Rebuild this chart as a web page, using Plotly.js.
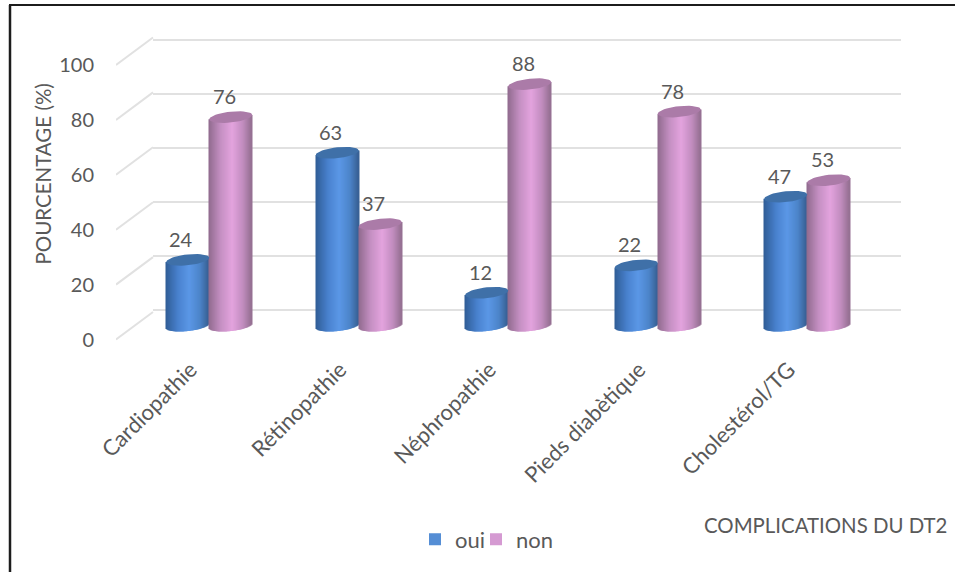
<!DOCTYPE html>
<html>
<head>
<meta charset="utf-8">
<script src="https://cdn.plot.ly/plotly-3.0.1.min.js"></script>
<style>html,body{margin:0;padding:0;background:#fff}#chart{width:955px;height:572px}</style>
</head>
<body>
<div id="chart"></div>
<script>
// Chart data
const categories = ['Cardiopathie', 'Rétinopathie', 'Néphropathie', 'Pieds diabètique', 'Cholestérol/TG'];
const oui = [24, 63, 12, 22, 47];
const non = [76, 37, 88, 78, 53];
const yTicks = [0, 20, 40, 60, 80, 100];

// Palette
const textColor = '#595959';
const gridColor = '#e1e1e1';
const blueStops = [[0, '#2f5d95'], [0.3, '#4a82cf'], [0.55, '#5b97e6'], [0.8, '#4c84c9'], [1, '#375f92']];
const pinkStops = [[0, '#8f6a8d'], [0.28, '#c48fc2'], [0.55, '#e3a3de'], [0.8, '#c18cbe'], [1, '#936f90']];

// Pixel geometry of the depth planes of the pseudo-3D floor
const W = 955, H = 572;
const plotW = 747.5, plotH = 274.5;
const planes = {
  front: { left: 116, zero: 339.5 },
  mid:   { left: 134.5, zero: 325.7 },
  back:  { left: 153, zero: 312 },
  wall:  { left: 153, zero: 309.5 }
};
const pxPerCat = plotW / categories.length;
const pxPerUnit = plotH / 100;
const barPx = 43;
const barW = barPx / pxPerCat;
const yLow = -5, yHigh = 115;   // shared value range, wider than the ticks so edge lines survive

function domainX(p) { return [p.left / W, (p.left + plotW) / W]; }
function domainY(p) {
  return [1 - (p.zero - yLow * pxPerUnit) / H, 1 - (p.zero - yHigh * pxPerUnit) / H];
}

// Linear interpolation through the shading stops of a cylinder
function shade(stops, t) {
  for (let i = 1; i < stops.length; i++) {
    if (t <= stops[i][0]) {
      const [t0, c0] = stops[i - 1], [t1, c1] = stops[i];
      const f = (t - t0) / (t1 - t0);
      const ch = (c, k) => parseInt(c.substr(1 + 2 * k, 2), 16);
      const v = [0, 1, 2].map(k => Math.round(ch(c0, k) + (ch(c1, k) - ch(c0, k)) * f));
      return `rgb(${v[0]},${v[1]},${v[2]})`;
    }
  }
  return stops[stops.length - 1][1];
}

const ellB = 5.4, ellTilt = 2.2;   // rim half-height and lean, in pixels
const STRIPS = 43;
const traces = [];

// Back wall: carries the horizontal gridlines only
traces.push({ type: 'scatter', mode: 'none', x: [0], y: [0], xaxis: 'x', yaxis: 'y', showlegend: false, hoverinfo: 'skip' });

// Front plane: slanted floor lines joining the value axis to the back wall
const slantX = [], slantY = [];
yTicks.forEach(v => {
  slantX.push(-0.5, -0.5 + (planes.back.left - planes.front.left) / pxPerCat, null);
  slantY.push(v, v + (planes.front.zero - planes.back.zero) / pxPerUnit, null);
});
traces.push({
  type: 'scatter', mode: 'lines', x: slantX, y: slantY, xaxis: 'x2', yaxis: 'y2',
  line: { color: gridColor, width: 2 }, cliponaxis: false, showlegend: false, hoverinfo: 'skip'
});

// One cylinder series: a named core bar, shaded strips with a curved foot, and a rim
function addSeries(name, legendId, values, offsetSign, legendColor, stops, capColor) {
  const centres = categories.map((_, i) => i + offsetSign * barW / 2);
  traces.push({
    type: 'bar', name, legend: legendId, x: centres, y: values, width: barW * 0.8,
    xaxis: 'x3', yaxis: 'y3', marker: { color: legendColor }, cliponaxis: false, hoverinfo: 'skip'
  });
  for (let s = 0; s < STRIPS; s++) {
    const u = -1 + (2 * s + 1) / STRIPS;
    const lean = ellTilt * u / pxPerUnit;
    const foot = -ellB * Math.sqrt(1 - u * u) / pxPerUnit + lean;
    const color = shade(stops, (u + 1) / 2);
    traces.push({
      type: 'bar', x: centres.map(c => c + u * barW / 2), y: values.map(v => v + lean - foot),
      base: values.map(() => foot), width: barW / STRIPS * 1.08,
      xaxis: 'x3', yaxis: 'y3', marker: { color, line: { width: 0 } },
      cliponaxis: false, showlegend: false, hoverinfo: 'skip'
    });
  }
  const capX = [], capY = [];
  values.forEach((v, i) => {
    for (let k = 0; k <= 40; k++) {
      const t = 2 * Math.PI * k / 40;
      capX.push(centres[i] + Math.cos(t) * barW / 2);
      capY.push(v + (ellB * Math.sin(t) + ellTilt * Math.cos(t)) / pxPerUnit);
    }
    capX.push(null); capY.push(null);
  });
  traces.push({
    type: 'scatter', mode: 'lines', x: capX, y: capY, fill: 'toself', fillcolor: capColor,
    line: { width: 0, color: capColor }, xaxis: 'x3', yaxis: 'y3',
    cliponaxis: false, showlegend: false, hoverinfo: 'skip'
  });
}
addSeries('oui', 'legend', oui, -1, '#558ed5', blueStops, '#3f70a8');
addSeries('non', 'legend2', non, 1, '#d59ad2', pinkStops, '#ab7ba8');

// Value labels above each cylinder
const valueLabels = [];
[[oui, -1], [non, 1]].forEach(([vals, sign]) => vals.forEach((v, i) => valueLabels.push({
  x: i + sign * barW / 2, y: v, xref: 'x3', yref: 'y3', text: String(v), showarrow: false,
  xshift: -6.5, yshift: 21, font: { family: 'Lato', size: 20, color: textColor }
})));

const legendStyle = x => ({
  orientation: 'h', x: x / W, xanchor: 'left', y: 1 - 539.5 / H, yanchor: 'middle',
  font: { family: 'Lato', size: 22, color: textColor }, itemwidth: 30, bgcolor: 'rgba(0,0,0,0)'
});

const catRange = [-0.5, categories.length - 0.5];
const valRange = [yLow, yHigh];
const layout = {
  width: W, height: H, margin: { l: 0, r: 0, t: 0, b: 0 },
  paper_bgcolor: '#fff', plot_bgcolor: 'rgba(0,0,0,0)',
  barmode: 'overlay', showlegend: true,
  font: { family: 'Lato', color: textColor },
  // back wall
  xaxis: { domain: domainX(planes.wall), range: catRange, anchor: 'y', showgrid: false, zeroline: false, showticklabels: false, showline: false },
  yaxis: { domain: domainY(planes.wall), range: valRange, anchor: 'x', tickvals: yTicks, showgrid: true, gridcolor: gridColor, gridwidth: 2, zeroline: false, showticklabels: false, showline: false },
  // front plane: visible category and value labels
  xaxis2: {
    domain: domainX(planes.front), range: catRange, anchor: 'free', position: 1 - planes.front.zero / H, tickmode: 'array',
    tickvals: categories.map((_, i) => i), ticktext: categories, tickangle: -45,
    ticklabelstandoff: 12, ticks: '', showgrid: false, zeroline: false, showline: false,
    tickfont: { family: 'Lato', size: 22, color: textColor }
  },
  yaxis2: {
    domain: domainY(planes.front), range: valRange, anchor: 'x2', tickmode: 'array',
    tickvals: yTicks, ticktext: yTicks.map(String), ticklabelstandoff: 21, ticks: '',
    showgrid: false, zeroline: false, showline: false,
    tickfont: { family: 'Lato', size: 20, color: textColor }
  },
  // middle plane: the cylinders stand here
  xaxis3: { domain: domainX(planes.mid), range: catRange, anchor: 'y3', visible: false },
  yaxis3: { domain: domainY(planes.mid), range: valRange, anchor: 'x3', visible: false },
  legend: legendStyle(415),
  legend2: legendStyle(476),
  annotations: valueLabels.concat([
    { xref: 'paper', yref: 'paper', x: 43 / W, y: 1 - 174.5 / H, xanchor: 'center', yanchor: 'middle',
      text: 'POURCENTAGE (%)', textangle: -90, showarrow: false,
      font: { family: 'Lato', size: 20.5, color: textColor } },
    { xref: 'paper', yref: 'paper', x: 825.5 / W, y: 1 - 525 / H, xanchor: 'center', yanchor: 'middle',
      text: 'COMPLICATIONS DU DT2', showarrow: false,
      font: { family: 'Lato', size: 20.4, color: textColor } }
  ]),
  shapes: [
    { type: 'line', xref: 'paper', yref: 'paper', x0: 10 / W, x1: 10 / W, y0: 0, y1: 1 - 5 / H, line: { color: '#1c1c1c', width: 2.5 } },
    { type: 'line', xref: 'paper', yref: 'paper', x0: 9 / W, x1: 1, y0: 1 - 5 / H, y1: 1 - 5 / H, line: { color: '#1c1c1c', width: 2 } }
  ]
};

Plotly.newPlot('chart', traces, layout, { displayModeBar: false, responsive: false });
</script>
</body>
</html>
